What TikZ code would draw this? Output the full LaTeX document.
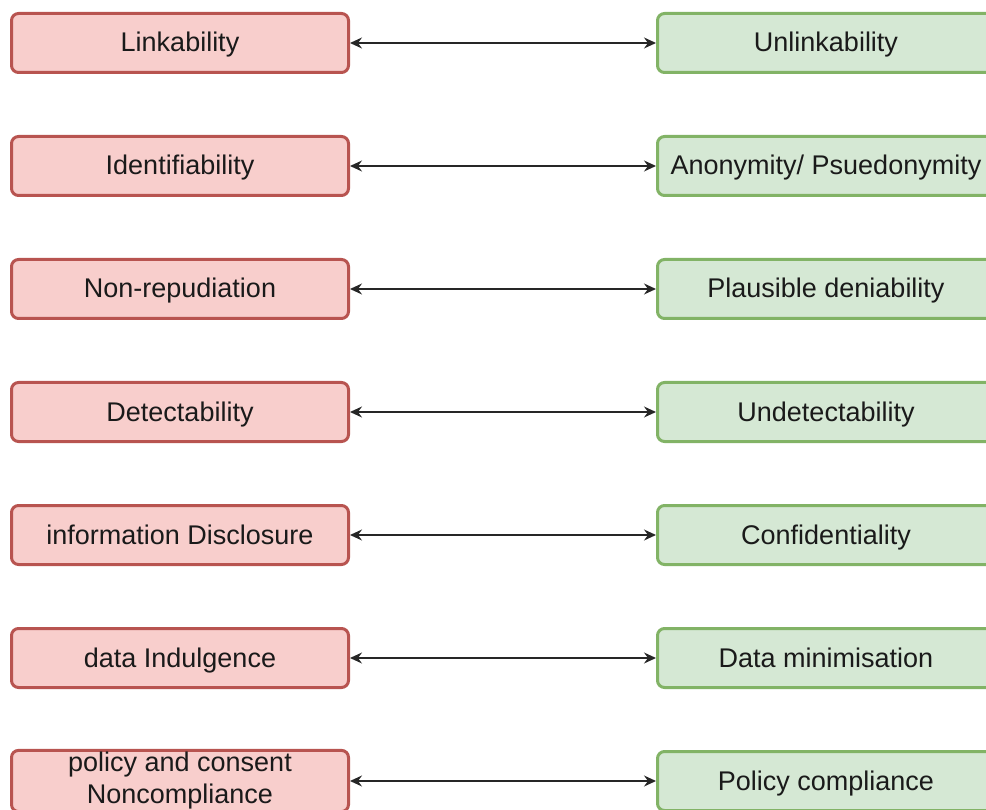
\documentclass[tikz,border=0pt]{standalone}
\usepackage{fontspec}
\setmainfont{Liberation Sans}
\usetikzlibrary{arrows.meta}
\definecolor{redfill}{HTML}{F8CECC}
\definecolor{redline}{HTML}{B85450}
\definecolor{greenfill}{HTML}{D5E8D4}
\definecolor{greenline}{HTML}{82B366}
\definecolor{txt}{HTML}{1A1A1A}
\tikzset{
  box/.style={rounded corners=7pt, line width=3pt, minimum width=337pt, minimum height=59pt,
    inner sep=2pt, align=center, text=txt, text height=20pt, text depth=2pt,
    font=\fontsize{27}{32}\selectfont},
  twoline/.style={text height=, text depth=},
  redbox/.style={box, fill=redfill, draw=redline},
  greenbox/.style={box, fill=greenfill, draw=greenline},
  link/.style={line width=1.5pt, draw=black!85, {Stealth[length=12pt,width=11pt,inset=4pt]}-{Stealth[length=12pt,width=11pt,inset=4pt]}}
}
\begin{document}
\begin{tikzpicture}[x=1pt,y=1pt]
\useasboundingbox (0,0) rectangle (986,-810);
\clip (0,0) rectangle (986,-810);
\node[redbox] (L1) at (180,-43) {Linkability};
\node[redbox] (L2) at (180,-166) {Identifiability};
\node[redbox] (L3) at (180,-289) {Non-repudiation};
\node[redbox] (L4) at (180,-412) {Detectability};
\node[redbox] (L5) at (180,-535) {information Disclosure};
\node[redbox] (L6) at (180,-658) {data Indulgence};
\node[redbox, twoline] (L7) at (180,-781) {policy and consent\\Noncompliance};
\node[greenbox] (R1) at (826,-43) {Unlinkability};
\node[greenbox] (R2) at (826,-166) {Anonymity/ Psuedonymity};
\node[greenbox] (R3) at (826,-289) {Plausible deniability};
\node[greenbox] (R4) at (826,-412) {Undetectability};
\node[greenbox] (R5) at (826,-535) {Confidentiality};
\node[greenbox] (R6) at (826,-658) {Data minimisation};
\node[greenbox] (R7) at (826,-781) {Policy compliance};
\foreach \k in {1,...,7}{
  \draw[link] (L\k) -- (R\k);
}
\end{tikzpicture}
\end{document}
